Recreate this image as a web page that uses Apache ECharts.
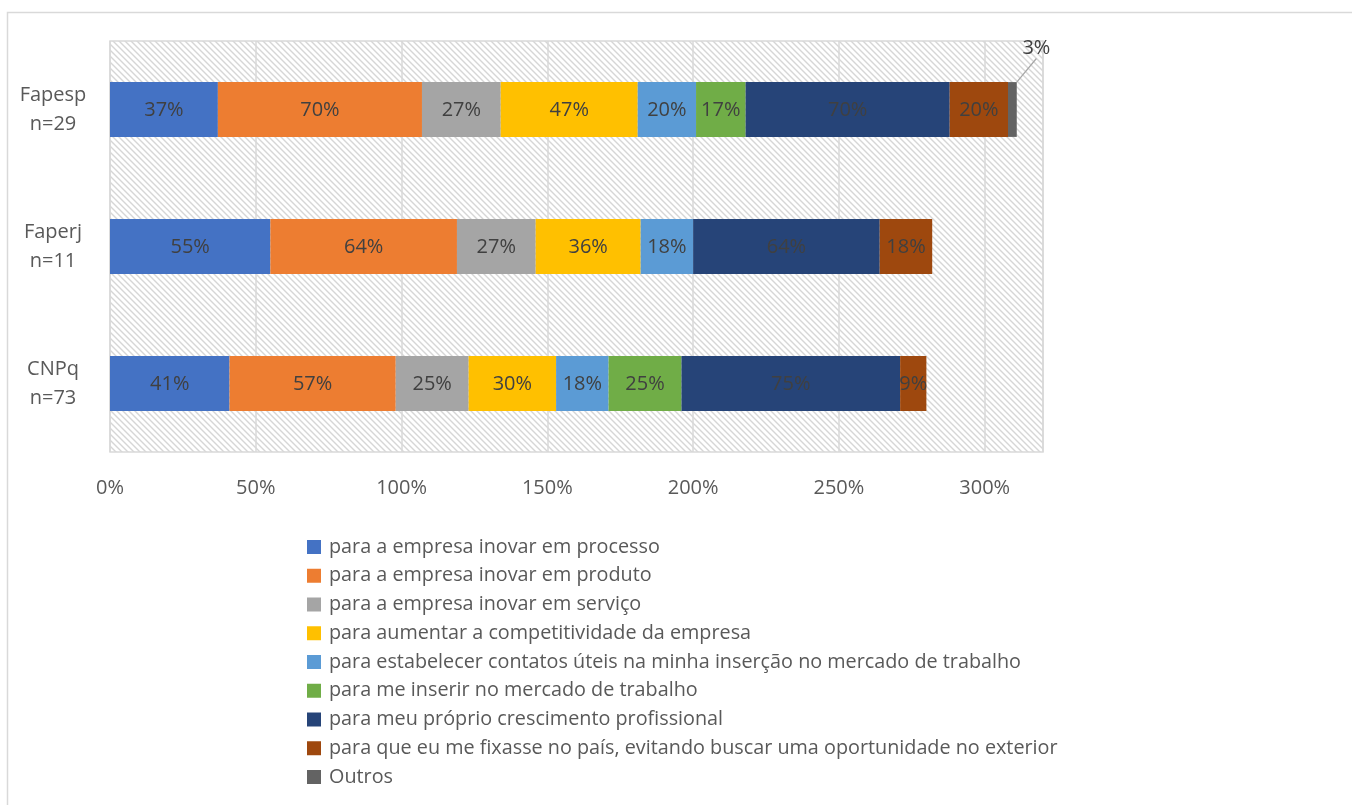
<!DOCTYPE html>
<html>
<head>
<meta charset="utf-8">
<script src="https://cdn.jsdelivr.net/npm/echarts@6/dist/echarts.min.js"></script>
<style>
  html, body { margin: 0; padding: 0; background: #fff; }
  #chart { width: 1352px; height: 805px; }
</style>
</head>
<body>
<div id="chart"></div>
<script>
// categorias (de cima para baixo)
const categorias = ['Fapesp\nn=29', 'Faperj\nn=11', 'CNPq\nn=73'];

const nomesSeries = [
  'para a empresa inovar em processo',
  'para a empresa inovar em produto',
  'para a empresa inovar em serviço',
  'para aumentar a competitividade da empresa',
  'para estabelecer contatos úteis na minha inserção no mercado de trabalho',
  'para me inserir no mercado de trabalho',
  'para meu próprio crescimento profissional',
  'para que eu me fixasse no país, evitando buscar uma oportunidade no exterior',
  'Outros'
];

// valores em % (Fapesp, Faperj, CNPq); 0 = sem barra
const inovarProcesso   = [37, 55, 41];
const inovarProduto    = [70, 64, 57];
const inovarServico    = [27, 27, 25];
const competitividade  = [47, 36, 30];
const contatosUteis    = [20, 18, 18];
const inserirMercado   = [17, 0, 25];
const crescimentoProf  = [70, 64, 75];
const fixarNoPais      = [20, 18, 9];
const outros           = [3, 0, 0];

const cores = ['#4472C4', '#ED7D31', '#A5A5A5', '#FFC000', '#5B9BD5', '#70AD47', '#264478', '#9E480E', '#636363'];

const xMax = 320;
const xInterval = 50;

// hachura do fundo
function hachura() {
  const c = document.createElement('canvas');
  c.width = 6; c.height = 6;
  const ctx = c.getContext('2d');
  ctx.strokeStyle = '#d6d6d6';
  ctx.lineWidth = 1.4;
  ctx.beginPath();
  ctx.moveTo(-1, -1); ctx.lineTo(7, 7);
  ctx.moveTo(-1, 5); ctx.lineTo(1, 7);
  ctx.moveTo(5, -1); ctx.lineTo(7, 1);
  ctx.stroke();
  return c;
}

const fonte = '"Open Sans", "Noto Sans", sans-serif';

var chart = echarts.init(document.getElementById('chart'));

const valores = [inovarProcesso, inovarProduto, inovarServico, competitividade,
  contatosUteis, inserirMercado, crescimentoProf, fixarNoPais, outros];

const series = valores.map(function (dados, i) {
  const s = {
    name: nomesSeries[i],
    type: 'bar',
    stack: 'total',
    barWidth: '40%',
    // zeros viram null para não desenhar barra/rótulo
    data: dados.map(function (v) { return v === 0 ? null : v; }),
    itemStyle: { color: cores[i] },
    label: {
      show: true,
      position: 'inside',
      color: '#404040',
      fontFamily: fonte,
      fontSize: 20,
      offset: [0, 1],
      formatter: '{c}%'
    }
  };
  if (i === 8) {
    s.labelLayout = { dx: 24, dy: -61 };
    s.labelLine = { show: true, lineStyle: { color: '#a6a6a6', width: 1.2 } };
  }
  return s;
});

chart.setOption({
  animation: false,
  textStyle: { fontFamily: fonte },
  graphic: [{
    type: 'rect',
    shape: { x: 7.5, y: 12.5, width: 1500, height: 900 },
    style: { fill: 'none', stroke: '#d9d9d9', lineWidth: 1.5 },
    silent: true
  }],
  grid: {
    left: 110,
    top: 41,
    right: 309,
    bottom: 353,
    show: true,
    borderColor: '#d9d9d9',
    borderWidth: 1.5,
    backgroundColor: { image: hachura(), repeat: 'repeat' }
  },
  xAxis: {
    type: 'value',
    min: 0,
    max: xMax,
    interval: xInterval,
    axisLine: { show: false },
    axisTick: { show: false },
    splitLine: { show: true, lineStyle: { color: '#d9d9d9', width: 1.5 } },
    axisLabel: {
      color: '#595959',
      fontFamily: fonte,
      fontSize: 20,
      margin: 26,
      showMaxLabel: false,
      formatter: '{value}%'
    }
  },
  yAxis: {
    type: 'category',
    inverse: true,
    data: categorias,
    axisLine: { show: false },
    axisTick: { show: false },
    axisLabel: {
      color: '#595959',
      fontFamily: fonte,
      fontSize: 20,
      lineHeight: 29,
      align: 'center',
      margin: 57
    }
  },
  legend: {
    orient: 'vertical',
    left: 302,
    top: 532,
    itemWidth: 14,
    itemHeight: 14,
    itemGap: 8.75,
    icon: 'rect',
    data: nomesSeries,
    textStyle: {
      color: '#595959',
      fontFamily: fonte,
      fontSize: 19.8,
      lineHeight: 20,
      padding: [0, 0, 0, 3]
    }
  },
  series: series
});
</script>
</body>
</html>
